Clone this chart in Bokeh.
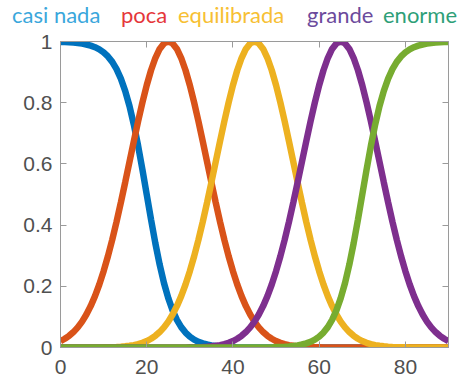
from bokeh.plotting import figure
from bokeh.models import Range1d, LinearAxis, FixedTicker, Div
from bokeh.layouts import column
from bokeh.embed import file_html
from bokeh.resources import INLINE

# x positions (0..90)
x = list(range(91))

casi_nada = [0.9986, 0.9981, 0.9974, 0.9964, 0.9949, 0.9930, 0.9902, 0.9865, 0.9813, 0.9742,
             0.9644, 0.9512, 0.9334, 0.9097, 0.8787, 0.8389, 0.7892, 0.7291, 0.6593, 0.5818,
             0.5, 0.4182, 0.3407, 0.2709, 0.2108, 0.1611, 0.1213, 0.0903, 0.0666, 0.0488,
             0.0356, 0.0258, 0.0187, 0.0135, 0.0098, 0.0070, 0.0051, 0.0036, 0.0026, 0.0019,
             0.0014] + [0] * 50

poca = [0.0211, 0.0286, 0.0382, 0.0504, 0.0657, 0.0846, 0.1077, 0.1353, 0.1680, 0.2059,
        0.2494, 0.2982, 0.3523, 0.4111, 0.4738, 0.5394, 0.6065, 0.6736, 0.7390, 0.8007,
        0.8570, 0.9060, 0.9460, 0.9756, 0.9938, 1, 0.9938, 0.9756, 0.9460, 0.9060,
        0.8570, 0.8007, 0.7390, 0.6736, 0.6065, 0.5394, 0.4738, 0.4111, 0.3523, 0.2982,
        0.2494, 0.2059, 0.1680, 0.1353, 0.1077, 0.0846, 0.0657, 0.0504, 0.0382, 0.0286,
        0.0211, 0.0154, 0.0111, 0.0079, 0.0056, 0.0039, 0.0027, 0.0018, 0.0012, 0.0008,
        0.0005] + [0] * 30

equilibrada = [0] * 10 + [
    0.0005, 0.0008, 0.0012, 0.0018, 0.0027, 0.0039, 0.0056, 0.0079, 0.0111, 0.0154,
    0.0211, 0.0286, 0.0382, 0.0504, 0.0657, 0.0846, 0.1077, 0.1353, 0.1680, 0.2059,
    0.2494, 0.2982, 0.3523, 0.4111, 0.4738, 0.5394, 0.6065, 0.6736, 0.7390, 0.8007,
    0.8570, 0.9060, 0.9460, 0.9756, 0.9938, 1, 0.9938, 0.9756, 0.9460, 0.9060,
    0.8570, 0.8007, 0.7390, 0.6736, 0.6065, 0.5394, 0.4738, 0.4111, 0.3523, 0.2982,
    0.2494, 0.2059, 0.1680, 0.1353, 0.1077, 0.0846, 0.0657, 0.0504, 0.0382, 0.0286,
    0.0211, 0.0154, 0.0111, 0.0079, 0.0056, 0.0039, 0.0027, 0.0018, 0.0012, 0.0008,
    0.0005] + [0] * 10

grande = [0] * 30 + [
    0.0005, 0.0008, 0.0012, 0.0018, 0.0027, 0.0039, 0.0056, 0.0079, 0.0111, 0.0154,
    0.0211, 0.0286, 0.0382, 0.0504, 0.0657, 0.0846, 0.1077, 0.1353, 0.1680, 0.2059,
    0.2494, 0.2982, 0.3523, 0.4111, 0.4738, 0.5394, 0.6065, 0.6736, 0.7390, 0.8007,
    0.8570, 0.9060, 0.9460, 0.9756, 0.9938, 1, 0.9938, 0.9756, 0.9460, 0.9060,
    0.8570, 0.8007, 0.7390, 0.6736, 0.6065, 0.5394, 0.4738, 0.4111, 0.3523, 0.2982,
    0.2494, 0.2059, 0.1680, 0.1353, 0.1077, 0.0846, 0.0657, 0.0504, 0.0382, 0.0286,
    0.0211]

enorme = [0] * 50 + [
    0.0014, 0.0019, 0.0026, 0.0036, 0.0051, 0.0070, 0.0098, 0.0135, 0.0187, 0.0258,
    0.0356, 0.0488, 0.0666, 0.0903, 0.1213, 0.1611, 0.2108, 0.2709, 0.3407, 0.4182,
    0.5, 0.5818, 0.6593, 0.7291, 0.7892, 0.8389, 0.8787, 0.9097, 0.9334, 0.9512,
    0.9644, 0.9742, 0.9813, 0.9865, 0.9902, 0.9930, 0.9949, 0.9964, 0.9974, 0.9981,
    0.9986]

series = [casi_nada, poca, equilibrada, grande, enorme]
line_colors = ["#0072BD", "#D95319", "#EDB120", "#7E2F8E", "#77AC30"]

names = ["casi nada", "poca", "equilibrada", "grande", "enorme"]
name_colors = ["#3AA7DC", "#E5373A", "#F7C033", "#6C4A9C", "#2E9F78"]
name_left_px = [12, 121, 178, 307, 383]

xticks = [0, 20, 40, 60, 80]
yticks = [0, 0.2, 0.4, 0.6, 0.8, 1]
ytick_labels = ["0", "0.2", "0.4", "0.6", "0.8", "1"]

AX = "#9a9a9a"
TXT = "#505050"
W = 469
HEAD_H = 30

# ---- header strip with coloured set names ----
spans = "".join(
    f'<span style="position:absolute;left:{lx}px;top:4px;color:{c};'
    f'font-family:Lato;font-size:22px;line-height:22px;white-space:nowrap;">{n}</span>'
    for n, c, lx in zip(names, name_colors, name_left_px))
head = Div(text=f'<div style="position:relative;width:{W}px;height:{HEAD_H}px;'
                f'margin:0;padding:0;">{spans}</div>',
           width=W, height=HEAD_H, margin=0)

# ---- main plot ----
p = figure(width=W, height=385 - HEAD_H, output_backend="svg", toolbar_location=None,
           x_range=Range1d(0, 90), y_range=Range1d(0, 1),
           min_border_left=60, min_border_right=21, min_border_top=11,
           min_border_bottom=38)
p.xgrid.visible = False
p.ygrid.visible = False
p.outline_line_color = AX

for ys, c in zip(series, line_colors):
    p.line(x, ys, line_color=c, line_width=6.5)

def style(ax, labels=True):
    ax.axis_line_color = AX
    ax.major_tick_line_color = AX
    ax.minor_tick_line_color = None
    ax.major_tick_in = 6
    ax.major_tick_out = 0
    if labels:
        ax.major_label_text_font = "Liberation Sans"
        ax.major_label_text_font_size = "21px"
        ax.major_label_text_color = TXT
    else:
        ax.major_label_text_color = None
        ax.major_label_text_font_size = "1px"
        ax.major_label_standoff = 0

xa = p.xaxis[0]
xa.ticker = FixedTicker(ticks=xticks)
style(xa)
xa.major_label_standoff = 12

ya = p.yaxis[0]
ya.ticker = FixedTicker(ticks=yticks)
ya.major_label_overrides = {t: s for t, s in zip(yticks, ytick_labels)}
style(ya)
ya.major_label_standoff = 8

top = LinearAxis(ticker=FixedTicker(ticks=xticks))
style(top, labels=False)
p.add_layout(top, "above")
right = LinearAxis(ticker=FixedTicker(ticks=yticks[1:-1]))
style(right, labels=False)
p.add_layout(right, "right")

layout = column(head, p, spacing=0)
open("out.html", "w").write(file_html(layout, INLINE))
